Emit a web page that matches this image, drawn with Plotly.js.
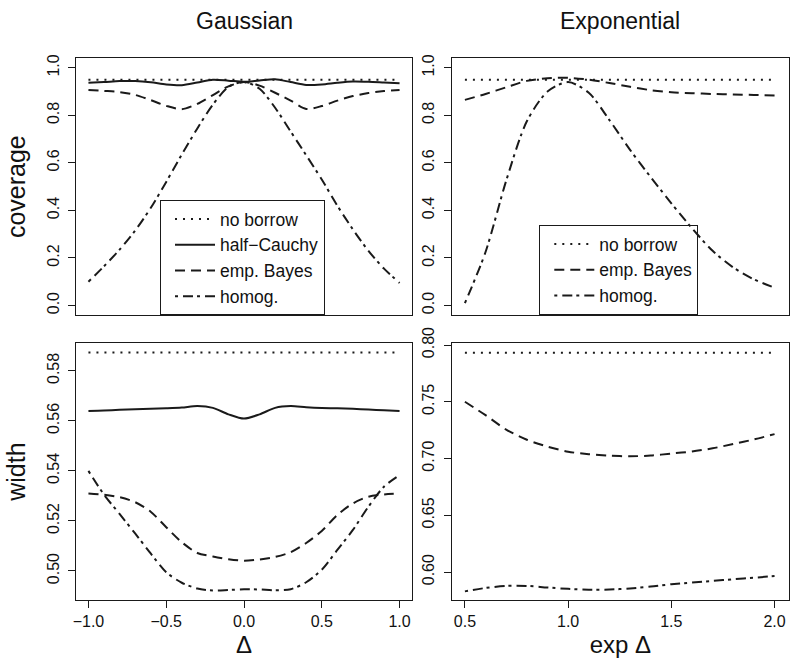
<!DOCTYPE html>
<html>
<head>
<meta charset="utf-8">
<script src="https://cdn.plot.ly/plotly-3.0.1.min.js"></script>
<style>
  html, body { margin: 0; padding: 0; background: #ffffff; }
  #chart { width: 800px; height: 668px; }
</style>
</head>
<body>
<div id="chart"></div>
<script>
// ---------- data ----------
const columnTitles = ["Gaussian", "Exponential"];
const seriesNames = ["no borrow", "half\u2212Cauchy", "emp. Bayes", "homog."];

// Gaussian column: x = Δ
const gaussDelta = [-1.0, -0.9, -0.8, -0.7, -0.6, -0.5, -0.4, -0.3, -0.2, -0.1, 0.0,
                    0.1, 0.2, 0.3, 0.4, 0.5, 0.6, 0.7, 0.8, 0.9, 1.0];
const gaussCovNoBorrow = [0.95, 0.95, 0.95, 0.95, 0.95, 0.95, 0.95, 0.95, 0.95, 0.95, 0.95,
                          0.95, 0.95, 0.95, 0.95, 0.95, 0.95, 0.95, 0.95, 0.95, 0.95];
const gaussCovHalfCauchy = [0.937, 0.940, 0.944, 0.944, 0.939, 0.930, 0.927, 0.938, 0.950, 0.946, 0.941,
                            0.947, 0.952, 0.940, 0.928, 0.930, 0.937, 0.942, 0.941, 0.938, 0.935];
const gaussCovEmpBayes = [0.907, 0.903, 0.898, 0.886, 0.864, 0.840, 0.826, 0.848, 0.885, 0.922, 0.940,
                          0.925, 0.895, 0.862, 0.827, 0.839, 0.862, 0.881, 0.894, 0.902, 0.907];
const gaussCovHomog = [0.100, 0.165, 0.235, 0.315, 0.410, 0.520, 0.635, 0.745, 0.845, 0.920, 0.940,
                       0.912, 0.832, 0.732, 0.632, 0.530, 0.420, 0.320, 0.230, 0.155, 0.095];

const gaussWidNoBorrow = [0.5873, 0.5873, 0.5873, 0.5873, 0.5873, 0.5873, 0.5873, 0.5873, 0.5873, 0.5873, 0.5873,
                          0.5873, 0.5873, 0.5873, 0.5873, 0.5873, 0.5873, 0.5873, 0.5873, 0.5873, 0.5873];
const gaussWidHalfCauchy = [0.5639, 0.5641, 0.5644, 0.5646, 0.5648, 0.5650, 0.5653, 0.5659, 0.5652, 0.5626, 0.5609,
                            0.5626, 0.5652, 0.5659, 0.5654, 0.5651, 0.5650, 0.5648, 0.5645, 0.5642, 0.5639];
const gaussWidEmpBayes = [0.5310, 0.5305, 0.5295, 0.5275, 0.5237, 0.5175, 0.5115, 0.5072, 0.5058, 0.5047, 0.5041,
                          0.5046, 0.5056, 0.5075, 0.5112, 0.5160, 0.5224, 0.5270, 0.5297, 0.5306, 0.5310];
const gaussWidHomog = [0.5400, 0.5305, 0.5228, 0.5150, 0.5070, 0.4995, 0.4953, 0.4930, 0.4922, 0.4924, 0.4927,
                       0.4926, 0.4923, 0.4927, 0.4955, 0.5005, 0.5084, 0.5164, 0.5257, 0.5337, 0.5383];

// Exponential column: x = exp Δ
const expDelta = [0.5, 0.6, 0.7, 0.8, 0.9, 1.0, 1.1, 1.2, 1.3, 1.4, 1.5, 1.6, 1.7, 1.8, 1.9, 2.0];
const expCovNoBorrow = [0.95, 0.95, 0.95, 0.95, 0.95, 0.95, 0.95, 0.95, 0.95, 0.95, 0.95, 0.95, 0.95, 0.95, 0.95, 0.95];
const expCovEmpBayes = [0.865, 0.890, 0.918, 0.945, 0.956, 0.958, 0.950, 0.936, 0.920, 0.906, 0.897, 0.893, 0.890, 0.888, 0.886, 0.884];
const expCovHomog = [0.010, 0.225, 0.525, 0.775, 0.900, 0.940, 0.895, 0.780, 0.655, 0.540, 0.430, 0.325, 0.230, 0.160, 0.110, 0.075];

const expWidNoBorrow = [0.7932, 0.7932, 0.7932, 0.7932, 0.7932, 0.7932, 0.7932, 0.7932, 0.7932, 0.7932, 0.7932, 0.7932, 0.7932, 0.7932, 0.7932, 0.7932];
const expWidEmpBayes = [0.7500, 0.7382, 0.7255, 0.7165, 0.7105, 0.7060, 0.7038, 0.7025, 0.7020, 0.7026, 0.7044, 0.7062, 0.7090, 0.7128, 0.7168, 0.7215];
const expWidHomog = [0.5830, 0.5860, 0.5878, 0.5878, 0.5864, 0.5852, 0.5845, 0.5846, 0.5856, 0.5872, 0.5893, 0.5908, 0.5922, 0.5937, 0.5950, 0.5965];

// tick values
const covTicks = [0.0, 0.2, 0.4, 0.6, 0.8, 1.0];
const gaussWidTicks = [0.50, 0.52, 0.54, 0.56, 0.58];
const expWidTicks = [0.60, 0.65, 0.70, 0.75, 0.80];
const gaussXTicks = [-1.0, -0.5, 0.0, 0.5, 1.0];
const expXTicks = [0.5, 1.0, 1.5, 2.0];

// ---------- styles ----------
const FONT = "Liberation Sans, Arial, Helvetica, sans-serif";
const INK = "#1a1a1a";
const dashes = {
  dotted: "2px,6px",
  dashed: "10px,6px",
  dotdash: "3px,5px,10px,4px",
  solid: "solid"
};
function tr(x, y, name, dash, xa, ya, legend, show, shape) {
  return {
    type: "scatter", mode: "lines", x: x, y: y, name: name,
    xaxis: xa, yaxis: ya, legend: legend, showlegend: show,
    line: { color: INK, width: 2, dash: dashes[dash], shape: shape || "spline", smoothing: 0.8 },
    hoverinfo: "skip"
  };
}

const data = [
  tr(gaussDelta, gaussCovNoBorrow, seriesNames[0], "dotted", "x", "y", "legend", true, "linear"),
  tr(gaussDelta, gaussCovHalfCauchy, seriesNames[1], "solid", "x", "y", "legend", true),
  tr(gaussDelta, gaussCovEmpBayes, seriesNames[2], "dashed", "x", "y", "legend", true),
  tr(gaussDelta, gaussCovHomog, seriesNames[3], "dotdash", "x", "y", "legend", true),

  tr(expDelta, expCovNoBorrow, seriesNames[0], "dotted", "x2", "y2", "legend2", true, "linear"),
  tr(expDelta, expCovEmpBayes, seriesNames[2], "dashed", "x2", "y2", "legend2", true),
  tr(expDelta, expCovHomog, seriesNames[3], "dotdash", "x2", "y2", "legend2", true),

  tr(gaussDelta, gaussWidNoBorrow, seriesNames[0], "dotted", "x3", "y3", "legend", false, "linear"),
  tr(gaussDelta, gaussWidHalfCauchy, seriesNames[1], "solid", "x3", "y3", "legend", false),
  tr(gaussDelta, gaussWidEmpBayes, seriesNames[2], "dashed", "x3", "y3", "legend", false),
  tr(gaussDelta, gaussWidHomog, seriesNames[3], "dotdash", "x3", "y3", "legend", false),

  tr(expDelta, expWidNoBorrow, seriesNames[0], "dotted", "x4", "y4", "legend2", false, "linear"),
  tr(expDelta, expWidEmpBayes, seriesNames[2], "dashed", "x4", "y4", "legend2", false),
  tr(expDelta, expWidHomog, seriesNames[3], "dotdash", "x4", "y4", "legend2", false)
];

const W = 800, H = 668;
const colL = [76 / W, 412 / W];
const colR = [451.7 / W, 789 / W];
const rowT = [1 - 315 / H, 1 - 58.3 / H];
const rowB = [1 - 600 / H, 1 - 343.3 / H];

function axis(extra) {
  return Object.assign({
    showline: true, mirror: true, linecolor: INK, linewidth: 1,
    showgrid: false, zeroline: false,
    ticks: "outside", ticklen: 7, tickwidth: 1, tickcolor: INK,
    tickfont: { family: FONT, size: 16, color: "#111" },
    tickmode: "array", automargin: false, fixedrange: true
  }, extra);
}
const titleFont = { family: FONT, size: 23, color: "#111" };
const axisTitleFont = { family: FONT, size: 25, color: "#111" };

const legendBase = {
  bgcolor: "rgba(255,255,255,0)", bordercolor: INK, borderwidth: 1,
  font: { family: FONT, size: 17.5, color: "#111" },
  xanchor: "left", yanchor: "bottom", y: rowT[0],
  itemwidth: 40, indentation: 9, traceorder: "normal", tracegroupgap: 0
};

const layout = {
  width: W, height: H,
  margin: { l: 0, r: 0, t: 0, b: 0 },
  paper_bgcolor: "#ffffff", plot_bgcolor: "#ffffff",
  font: { family: FONT, color: "#111" },
  showlegend: true,
  legend: Object.assign({}, legendBase, { x: 160 / W }),
  legend2: Object.assign({}, legendBase, { x: 539.3 / W }),
  xaxis: axis({ domain: colL, anchor: "y", range: [-1.08, 1.08], tickvals: gaussXTicks, ticks: "", showticklabels: false }),
  yaxis: axis({ domain: rowT, anchor: "x", range: [-0.04, 1.04], tickvals: covTicks, tickformat: ".1f", tickangle: -90,
                ticklabelstandoff: 3,
                title: { text: "coverage", font: axisTitleFont, standoff: 11 } }),
  xaxis2: axis({ domain: colR, anchor: "y2", range: [0.436, 2.07], tickvals: expXTicks, ticks: "", showticklabels: false }),
  yaxis2: axis({ domain: rowT, anchor: "x2", range: [-0.04, 1.04], tickvals: covTicks, tickformat: ".1f", tickangle: -90,
                 ticklabelstandoff: 3 }),
  xaxis3: axis({ domain: colL, anchor: "y3", range: [-1.08, 1.08], tickvals: gaussXTicks, tickformat: ".1f",
                 title: { text: "\u0394", font: { family: FONT, size: 24, color: "#111" }, standoff: 6 } }),
  yaxis3: axis({ domain: rowB, anchor: "x3", range: [0.4884, 0.591], tickvals: gaussWidTicks, tickformat: ".2f", tickangle: -90,
                 ticklabelstandoff: 3,
                 title: { text: "width", font: axisTitleFont, standoff: 11 } }),
  xaxis4: axis({ domain: colR, anchor: "y4", range: [0.436, 2.07], tickvals: expXTicks, tickformat: ".1f",
                 title: { text: "exp \u0394", font: { family: FONT, size: 24, color: "#111" }, standoff: 6 } }),
  yaxis4: axis({ domain: rowB, anchor: "x4", range: [0.5754, 0.8015], tickvals: expWidTicks, tickformat: ".2f", tickangle: -90,
                 ticklabelstandoff: 3 }),
  annotations: [
    { text: columnTitles[0], xref: "paper", yref: "paper", x: (colL[0] + colL[1]) / 2, y: 1 - 21 / H,
      xanchor: "center", yanchor: "middle", showarrow: false, font: titleFont },
    { text: columnTitles[1], xref: "paper", yref: "paper", x: (colR[0] + colR[1]) / 2, y: 1 - 21 / H,
      xanchor: "center", yanchor: "middle", showarrow: false, font: titleFont }
  ]
};

Plotly.newPlot("chart", data, layout, { staticPlot: true, displayModeBar: false });
</script>
</body>
</html>
